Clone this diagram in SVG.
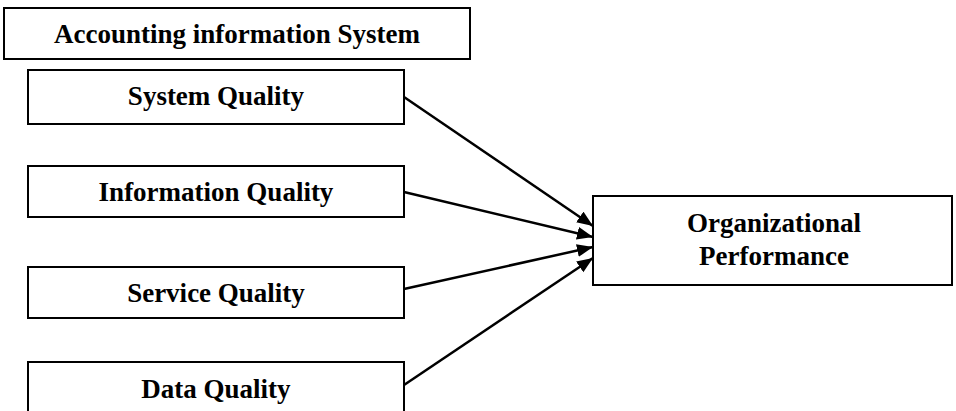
<svg xmlns="http://www.w3.org/2000/svg" width="956" height="411" viewBox="0 0 956 411">
<style>
.box{fill:#fff;stroke:#000;stroke-width:2}
.lbl{font-family:"Liberation Serif","Times New Roman",serif;font-weight:bold;font-size:27px;fill:#000;text-anchor:middle}
.conn{stroke:#000;stroke-width:2.5;fill:none;marker-end:url(#ah)}
</style>
<defs>
<marker id="ah" markerUnits="userSpaceOnUse" markerWidth="18" markerHeight="14" refX="16" refY="7" orient="auto">
<path d="M0,0.5 L16,7 L0,13.5 z" fill="#000"/>
</marker>
</defs>
<rect width="956" height="411" fill="#fff"/>
<g id="ais">
<rect class="box" x="4" y="8" width="466" height="51"/>
<text class="lbl" x="237" y="43">Accounting information System</text>
</g>
<g id="system-quality">
<rect class="box" x="28" y="70" width="376" height="54"/>
<text class="lbl" x="216" y="105">System Quality</text>
</g>
<g id="information-quality">
<rect class="box" x="28" y="166" width="376" height="51"/>
<text class="lbl" x="216" y="201">Information Quality</text>
</g>
<g id="service-quality">
<rect class="box" x="28" y="267" width="376" height="51"/>
<text class="lbl" x="216" y="302">Service Quality</text>
</g>
<g id="data-quality">
<rect class="box" x="28" y="362" width="376" height="60"/>
<text class="lbl" x="216" y="398">Data Quality</text>
</g>
<g id="organizational-performance">
<rect class="box" x="593" y="196" width="359" height="89"/>
<text class="lbl" x="774" y="232">Organizational</text>
<text class="lbl" x="774" y="265">Performance</text>
</g>
<g id="connectors">
<line class="conn" x1="404" y1="97" x2="593" y2="226"/>
<line class="conn" x1="404" y1="192" x2="593" y2="237"/>
<line class="conn" x1="404" y1="289" x2="593" y2="247"/>
<line class="conn" x1="404" y1="385" x2="593" y2="258"/>
</g>
</svg>
